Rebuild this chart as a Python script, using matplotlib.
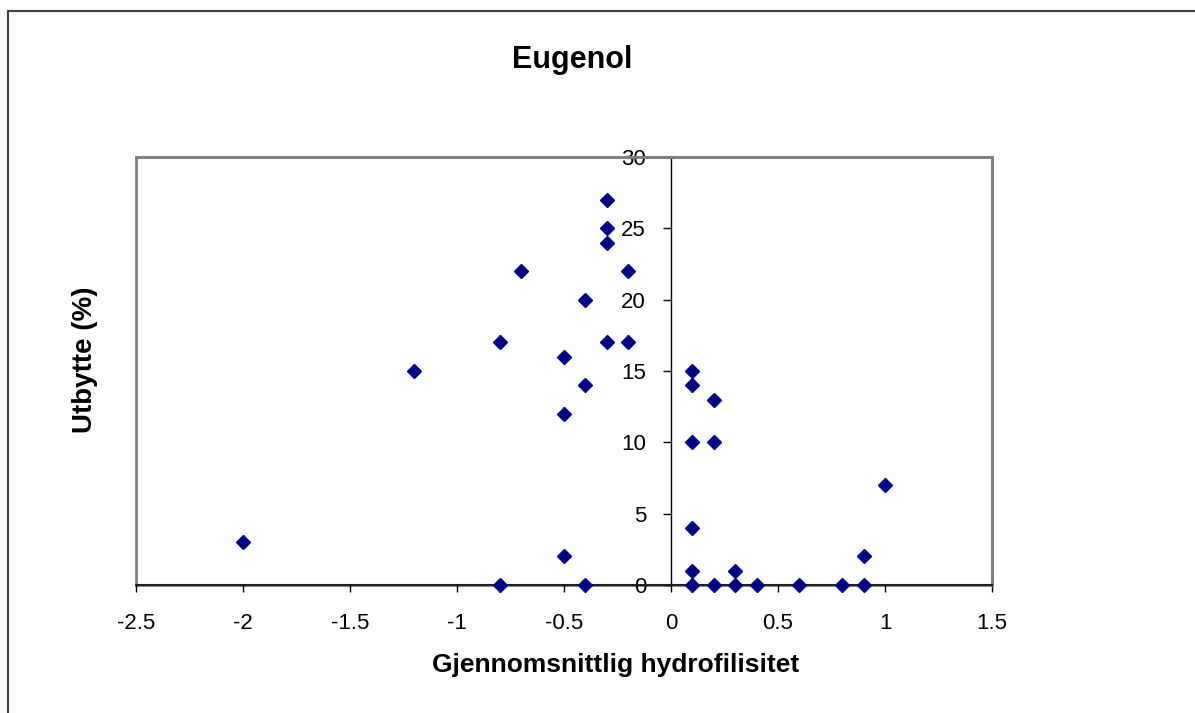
import matplotlib
matplotlib.use("Agg")
import matplotlib.pyplot as plt
from matplotlib.patches import Rectangle

plt.rcParams['font.family'] = ['Liberation Sans', 'DejaVu Sans']

hydrofilisitet = [-2.0, -1.2, -0.8, -0.8, -0.7, -0.5, -0.5, -0.5, -0.4, -0.4, -0.4,
                  -0.3, -0.3, -0.3, -0.3, -0.2, -0.2,
                  0.1, 0.1, 0.1, 0.1, 0.1, 0.1, 0.2, 0.2, 0.2, 0.3, 0.3, 0.4,
                  0.6, 0.8, 0.9, 0.9, 1.0]
utbytte = [3, 15, 17, 0, 22, 16, 12, 2, 20, 14, 0,
           27, 25, 24, 17, 22, 17,
           15, 14, 10, 4, 1, 0, 13, 10, 0, 1, 0, 0,
           0, 0, 2, 0, 7]

x_ticks = [-2.5, -2, -1.5, -1, -0.5, 0, 0.5, 1, 1.5]
x_ticklabels = ['-2.5', '-2', '-1.5', '-1', '-0.5', '0', '0.5', '1', '1.5']
y_ticks = [0, 5, 10, 15, 20, 25, 30]

W, H = 1195, 713
fig = plt.figure(figsize=(W / 100, H / 100), dpi=100)
fig.patch.set_facecolor('white')

# outer chart border (extends beyond right/bottom edges)
fig.patches.append(Rectangle((8 / W, -0.2), 2.0, (1 - 11 / H) + 0.2,
                             transform=fig.transFigure, fill=False,
                             edgecolor='#404040', lw=1.5))

left, right, top, bottom = 136, 992, 157, 585
ax = fig.add_axes([left / W, 1 - bottom / H, (right - left) / W, (bottom - top) / H])

ax.plot(hydrofilisitet, utbytte, linestyle='none', marker='D', markersize=7,
        color='#000080', markeredgecolor='#000080', clip_on=False, zorder=5)

ax.set_xlim(-2.5, 1.5)
ax.set_ylim(0, 30)

# frame in gray
for s in ['top', 'right']:
    ax.spines[s].set_color('#808080')
    ax.spines[s].set_linewidth(2)
ax.add_patch(Rectangle((0, 0), 1, 1, transform=ax.transAxes, fill=False,
                       edgecolor='#808080', lw=2, clip_on=False, zorder=1))
ax.spines['bottom'].set_color('#202020')
ax.spines['bottom'].set_linewidth(1.5)
ax.spines['left'].set_position(('data', 0))
ax.spines['left'].set_color('black')
ax.spines['left'].set_linewidth(1)

ax.set_xticks(x_ticks)
ax.set_xticklabels(x_ticklabels)
ax.set_yticks(y_ticks)
ax.tick_params(axis='x', direction='out', length=5, width=1, color='black',
               labelsize=16, pad=15)
ax.tick_params(axis='y', direction='out', length=6, width=1, color='black',
               labelsize=16, pad=12)

fig.text(572 / W, 1 - 60 / H, 'Eugenol', ha='center', va='center',
         fontsize=22, fontweight='bold')
fig.text(616 / W, 1 - 665 / H, 'Gjennomsnittlig hydrofilisitet', ha='center',
         va='center', fontsize=19, fontweight='bold')
fig.text(85 / W, 1 - 360 / H, 'Utbytte (%)', ha='center', va='center',
         rotation=90, fontsize=20, fontweight='bold')

fig.savefig('out.png', dpi=100)
